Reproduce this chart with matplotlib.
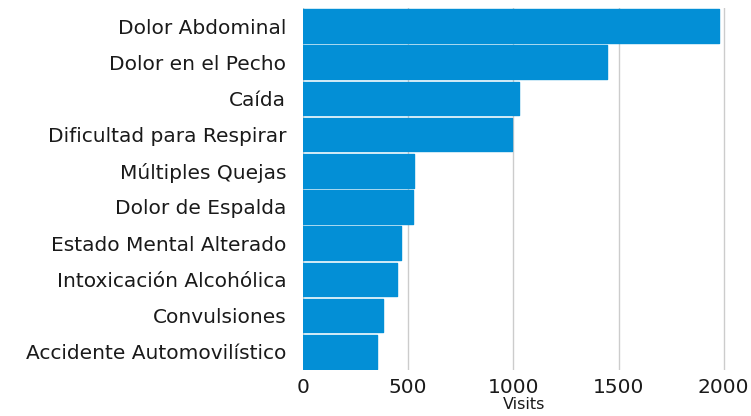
import matplotlib
matplotlib.use("Agg")
import matplotlib.pyplot as plt

# Chief complaints and number of visits
complaints = ["Dolor Abdominal", "Dolor en el Pecho", "Caída",
              "Dificultad para Respirar", "Múltiples Quejas", "Dolor de Espalda",
              "Estado Mental Alterado", "Intoxicación Alcohólica", "Convulsiones",
              "Accidente Automovilístico"]
visits = [1976, 1445, 1027, 993, 527, 522, 465, 446, 381, 351]
x_ticks = [0, 500, 1000, 1500, 2000]

bar_colour = "#038fd6"

fig = plt.figure(figsize=(7.51, 4.16), dpi=100)
ax = fig.add_axes([0.4035, 0.111, 0.589, 0.870])

pos = list(range(len(complaints)))
ax.barh(pos, visits, height=0.93, color=bar_colour, edgecolor=bar_colour,
        linewidth=1.0, joinstyle="round", zorder=2)

ax.set_ylim(len(complaints) - 0.5, -0.5)
ax.set_xlim(0, 2103)
ax.set_yticks(pos)
ax.set_yticklabels(complaints, fontsize=14.5, color="#1a1a1a")
ax.set_xticks(x_ticks)
ax.set_xticklabels([str(t) for t in x_ticks], fontsize=14.5, color="#1a1a1a")
ax.tick_params(axis="y", length=0, pad=12)
ax.tick_params(axis="x", length=0, pad=6)
ax.set_xlabel("Visits", fontsize=11.5, color="#1a1a1a", labelpad=0)

ax.grid(axis="x", color="#cccccc", linewidth=1, zorder=0)
ax.set_axisbelow(True)
for s in ax.spines.values():
    s.set_visible(False)

fig.savefig("out.png", dpi=100)
